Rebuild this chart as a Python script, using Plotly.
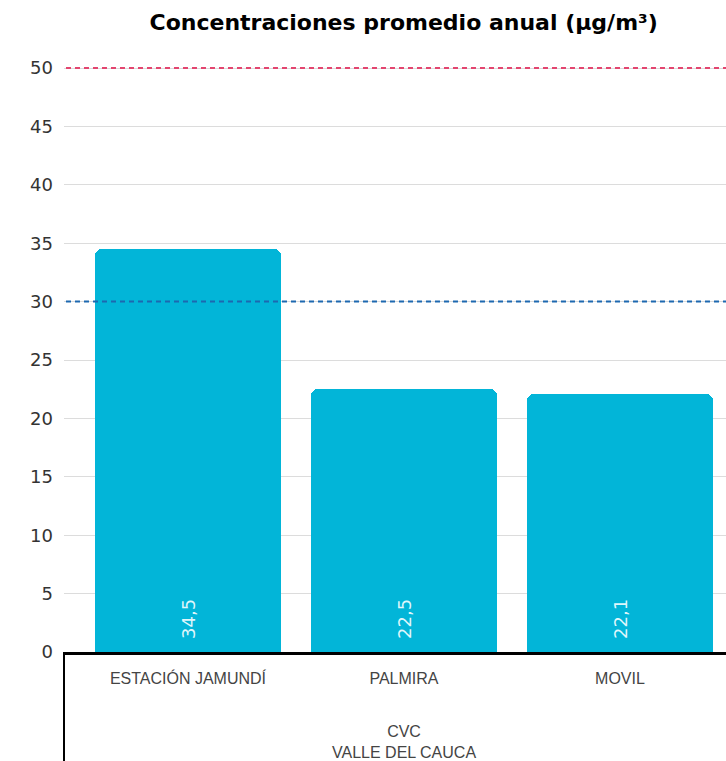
import plotly.graph_objects as go

# Estaciones y concentraciones promedio anual
estaciones = ["ESTACIÓN JAMUNDÍ", "PALMIRA", "MOVIL"]
concentraciones = [34.5, 22.5, 22.1]
grupo = "CVC<br>VALLE DEL CAUCA"

# Niveles de referencia
nivel_norma = 50
nivel_objetivo = 30

y_ticks = [0, 5, 10, 15, 20, 25, 30, 35, 40, 45, 50]

BAR_COLOR = "#02b5d8"

fig = go.Figure()

fig.add_trace(go.Bar(
    x=estaciones,
    y=concentraciones,
    width=0.86,
    marker=dict(color=BAR_COLOR, cornerradius=7, line=dict(width=0)),
    hoverinfo="skip",
))

# Valores rotados en la base de cada barra
for est, val in zip(estaciones, concentraciones):
    fig.add_annotation(
        x=est, y=0, xref="x", yref="y",
        text=f"{val:.1f}".replace(".", ","),
        textangle=-90, showarrow=False,
        xanchor="center", yanchor="bottom", yshift=11,
        font=dict(family="DejaVu Sans", size=18, color="#dff6fb"),
    )

# Líneas de referencia discontinuas
fig.add_shape(type="line", xref="paper", yref="y", x0=0.003, x1=1,
              y0=nivel_norma, y1=nivel_norma,
              line=dict(color="#e3456f", width=2, dash="5px,4px"), layer="above")
fig.add_shape(type="line", xref="paper", yref="y", x0=0.003, x1=1,
              y0=nivel_objetivo, y1=nivel_objetivo,
              line=dict(color="#1d68b0", width=2, dash="5px,4px"), layer="above")

# Separador vertical del grupo bajo el eje
fig.add_shape(type="line", xref="paper", yref="paper", x0=0, x1=0,
              y0=0, y1=-0.2, line=dict(color="#000000", width=2))

# Etiqueta del grupo
fig.add_annotation(x=1, xref="x", y=-0.117, yref="paper", yanchor="top",
                   text=grupo, showarrow=False,
                   font=dict(family="Liberation Sans", size=16, color="#444444"))

fig.update_layout(
    width=726, height=761,
    margin=dict(l=64, r=0, t=61, b=109),
    paper_bgcolor="white", plot_bgcolor="white",
    showlegend=False,
    bargap=0,
    title=dict(text="<b>Concentraciones promedio anual (µg/m³)</b>",
               x=0.556, xanchor="center", y=0.971, yanchor="middle",
               font=dict(family="DejaVu Sans", size=22, color="#000000")),
)

fig.update_xaxes(
    type="category",
    range=[-0.574, 2.491],
    showline=True, linecolor="#000000", linewidth=3,
    ticks="", ticklabelstandoff=10,
    tickfont=dict(family="Liberation Sans", size=16, color="#444444"),
    showgrid=False,
)

fig.update_yaxes(
    range=[0, 50.6],
    tickvals=y_ticks,
    showgrid=True, gridcolor="#dcdcdc", gridwidth=1,
    zeroline=False, showline=False,
    ticks="", ticklabelstandoff=10,
    tickfont=dict(family="DejaVu Sans", size=18, color="#333333"),
)

fig.write_html("out.html")
